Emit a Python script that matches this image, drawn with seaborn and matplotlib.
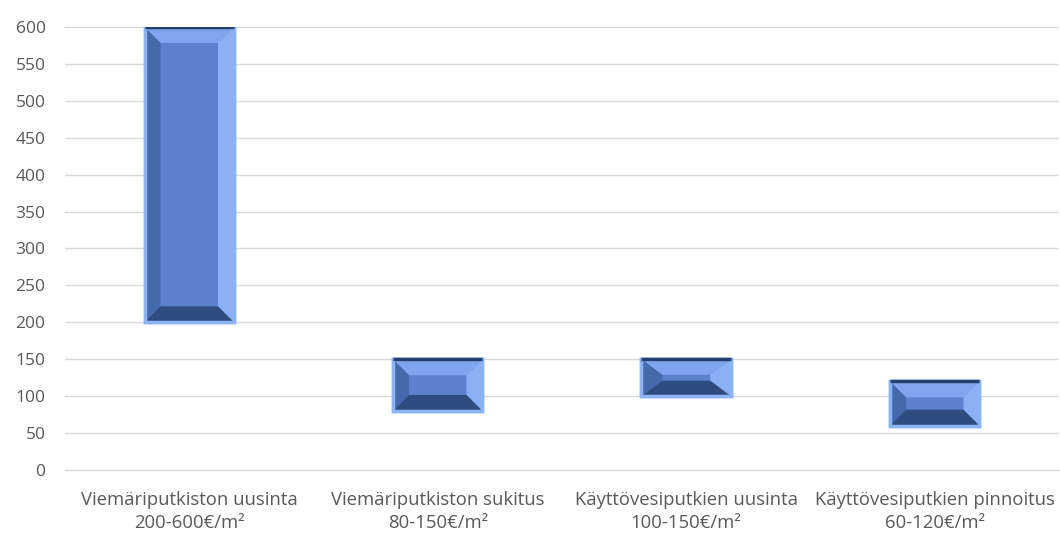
import numpy as np
import pandas as pd
import matplotlib
matplotlib.use("Agg")
import matplotlib.pyplot as plt
from matplotlib.patches import Polygon
import seaborn as sns

# hintavälit (€/m²)
categories = ["Viemäriputkiston uusinta\n200-600€/m²",
              "Viemäriputkiston sukitus\n80-150€/m²",
              "Käyttövesiputkien uusinta\n100-150€/m²",
              "Käyttövesiputkien pinnoitus\n60-120€/m²"]
low = [200, 80, 100, 60]
high = [600, 150, 150, 120]
yticks = list(range(0, 601, 50))

df = pd.DataFrame({"kohde": categories, "ala": low, "yla": high})
df["vali"] = df["yla"] - df["ala"]

sns.set_theme(style="white")
plt.rcParams["font.family"] = ["Open Sans", "DejaVu Sans"]

fig, ax = plt.subplots(figsize=(10.6, 5.49), dpi=100)
fig.subplots_adjust(left=65 / 1060, right=0.999, top=1 - 27 / 549, bottom=1 - 470 / 549)

sns.barplot(data=df, x="kohde", y="vali", bottom=df["ala"].values, color="#5b80cc",
            width=0.36, saturation=1, edgecolor="#8cb4f4", linewidth=2.5, ax=ax, zorder=3)

ax.set_ylim(0, 600)
ax.set_xlim(-0.5, len(categories) - 0.5)
ax.set_yticks(yticks)
ax.yaxis.grid(True, color="#d9d9d9", linewidth=1)
ax.set_axisbelow(True)
ax.set_xlabel("")
ax.set_ylabel("")
for s in ["top", "right", "left"]:
    ax.spines[s].set_visible(False)
ax.spines["bottom"].set_color("#d9d9d9")
ax.spines["bottom"].set_linewidth(1)
ax.tick_params(axis="y", length=0, pad=14, labelsize=12.5, labelcolor="#595959")
ax.tick_params(axis="x", which="major", length=0, pad=15, labelsize=13.3, labelcolor="#595959")
for lab in ax.get_xticklabels():
    lab.set_linespacing(1.35)
ax.set_xticks(np.arange(-0.5, len(categories)), minor=True)
ax.tick_params(axis="x", which="minor", length=4, color="#d9d9d9", width=1)

# viistetty (bevel) pinta palkkeihin
fig.canvas.draw()
inv = ax.transData.inverted()
p0 = inv.transform((0, 0))
p1 = inv.transform((16, 16))
bx_full = p1[0] - p0[0]
by_full = p1[1] - p0[1]
for bar in ax.patches:
    x0, y0 = bar.get_x(), bar.get_y()
    w, h = bar.get_width(), bar.get_height()
    x1, y1 = x0 + w, y0 + h
    by = min(by_full, 0.42 * h)
    bx = bx_full if by == by_full else bx_full * 1.3
    ix0, ix1, iy0, iy1 = x0 + bx, x1 - bx, y0 + by, y1 - by
    faces = [
        ([(x0, y1), (x1, y1), (ix1, iy1), (ix0, iy1)], "#7ea5ee"),   # ylä
        ([(x0, y0), (x0, y1), (ix0, iy1), (ix0, iy0)], "#456aab"),   # vasen
        ([(x1, y0), (x1, y1), (ix1, iy1), (ix1, iy0)], "#8ab0f5"),   # oikea
        ([(x0, y0), (x1, y0), (ix1, iy0), (ix0, iy0)], "#2f4c80"),   # ala
    ]
    for pts, c in faces:
        ax.add_patch(Polygon(pts, closed=True, facecolor=c, edgecolor="none", zorder=4))
    ax.add_patch(Polygon([(x0, y0), (x1, y0), (x1, y1), (x0, y1)], closed=True,
                         facecolor="none", edgecolor="#8cb4f4", linewidth=2.5, zorder=5))
    ax.plot([x0, x1], [y1, y1], color="#24406e", linewidth=2.5, zorder=6,
            solid_capstyle="butt")

fig.savefig("out.png", dpi=100)
